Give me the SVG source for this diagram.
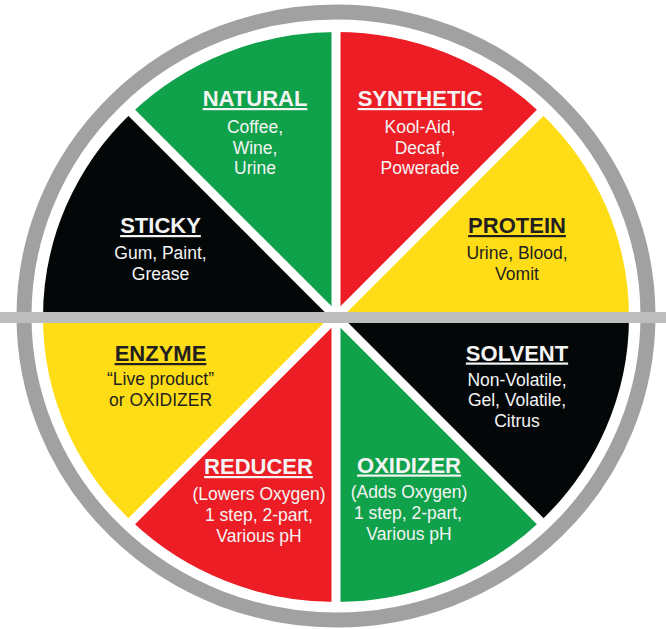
<svg xmlns="http://www.w3.org/2000/svg" width="666" height="629" viewBox="0 0 666 629">
<style>
.green{fill:#10a14b}.red{fill:#ec1d25}.yellow{fill:#fedd17}.black{fill:#040708}
text{font-family:"Liberation Sans",Arial,sans-serif;text-anchor:middle}
.t{font-size:22px;font-weight:bold;text-decoration:underline}
.b{font-size:17.5px}
.lt{fill:#f4f4f4}.dk{fill:#231f20}
.div{stroke:#ffffff;stroke-width:9;fill:none}
</style>
<rect width="666" height="629" fill="#ffffff"/>
<g id="natural">
<path class="green" d="M336,317 L131.7,112.7 A293,285 0 0 1 336,32 Z"/>
<text class="t lt" x="255" y="106">NATURAL</text>
<text class="b lt" x="255" y="132.5">Coffee,</text>
<text class="b lt" x="255" y="153.5">Wine,</text>
<text class="b lt" x="255" y="174">Urine</text>
</g>
<g id="synthetic">
<path class="red" d="M336,317 L336,32 A293,285 0 0 1 540.3,112.7 Z"/>
<text class="t lt" x="420" y="106">SYNTHETIC</text>
<text class="b lt" x="420" y="132.5">Kool-Aid,</text>
<text class="b lt" x="420" y="153.5">Decaf,</text>
<text class="b lt" x="420" y="174">Powerade</text>
</g>
<g id="protein">
<path class="yellow" d="M336,317 L540.3,112.7 A293,285 0 0 1 629,317 Z"/>
<text class="t dk" x="517" y="233">PROTEIN</text>
<text class="b dk" x="517" y="259">Urine, Blood,</text>
<text class="b dk" x="517" y="279.5">Vomit</text>
</g>
<g id="solvent">
<path class="black" d="M336,317 L629,317 A293,285 0 0 1 540.3,521.3 Z"/>
<text class="t lt" x="517" y="360.5">SOLVENT</text>
<text class="b lt" x="517" y="385.5">Non-Volatile,</text>
<text class="b lt" x="517" y="406">Gel, Volatile,</text>
<text class="b lt" x="517" y="426.5">Citrus</text>
</g>
<g id="oxidizer">
<path class="green" d="M336,317 L540.3,521.3 A293,285 0 0 1 336,602 Z"/>
<text class="t lt" x="409" y="472.5">OXIDIZER</text>
<text class="b lt" x="409" y="498">(Adds Oxygen)</text>
<text class="b lt" x="408" y="519">1 step, 2-part,</text>
<text class="b lt" x="409" y="539.5">Various pH</text>
</g>
<g id="reducer">
<path class="red" d="M336,317 L336,602 A293,285 0 0 1 131.7,521.3 Z"/>
<text class="t lt" x="258.5" y="474">REDUCER</text>
<text class="b lt" x="259" y="500">(Lowers Oxygen)</text>
<text class="b lt" x="259" y="521">1 step, 2-part,</text>
<text class="b lt" x="259" y="541.5">Various pH</text>
</g>
<g id="enzyme">
<path class="yellow" d="M336,317 L131.7,521.3 A293,285 0 0 1 43,317 Z"/>
<text class="t dk" x="160.5" y="361">ENZYME</text>
<text class="b dk" x="160.5" y="385">“Live product”</text>
<text class="b dk" x="160.5" y="406">or OXIDIZER</text>
</g>
<g id="sticky">
<path class="black" d="M336,317 L43,317 A293,285 0 0 1 131.7,112.7 Z"/>
<text class="t lt" x="160.5" y="233">STICKY</text>
<text class="b lt" x="160.5" y="259">Gum, Paint,</text>
<text class="b lt" x="160.5" y="279.5">Grease</text>
</g>
<g id="connectors">
<line class="div" x1="336" y1="24" x2="336" y2="610"/>
<line class="div" x1="126" y1="107" x2="546" y2="527"/>
<line class="div" x1="546" y1="107" x2="126" y2="527"/>
<rect x="0" y="312" width="666" height="11" fill="#bdbdbd"/>
<ellipse cx="336" cy="316" rx="312" ry="304" fill="none" stroke="#a1a1a1" stroke-width="15"/>
<rect x="0" y="312" width="666" height="11" fill="#bdbdbd"/>
</g>
</svg>
